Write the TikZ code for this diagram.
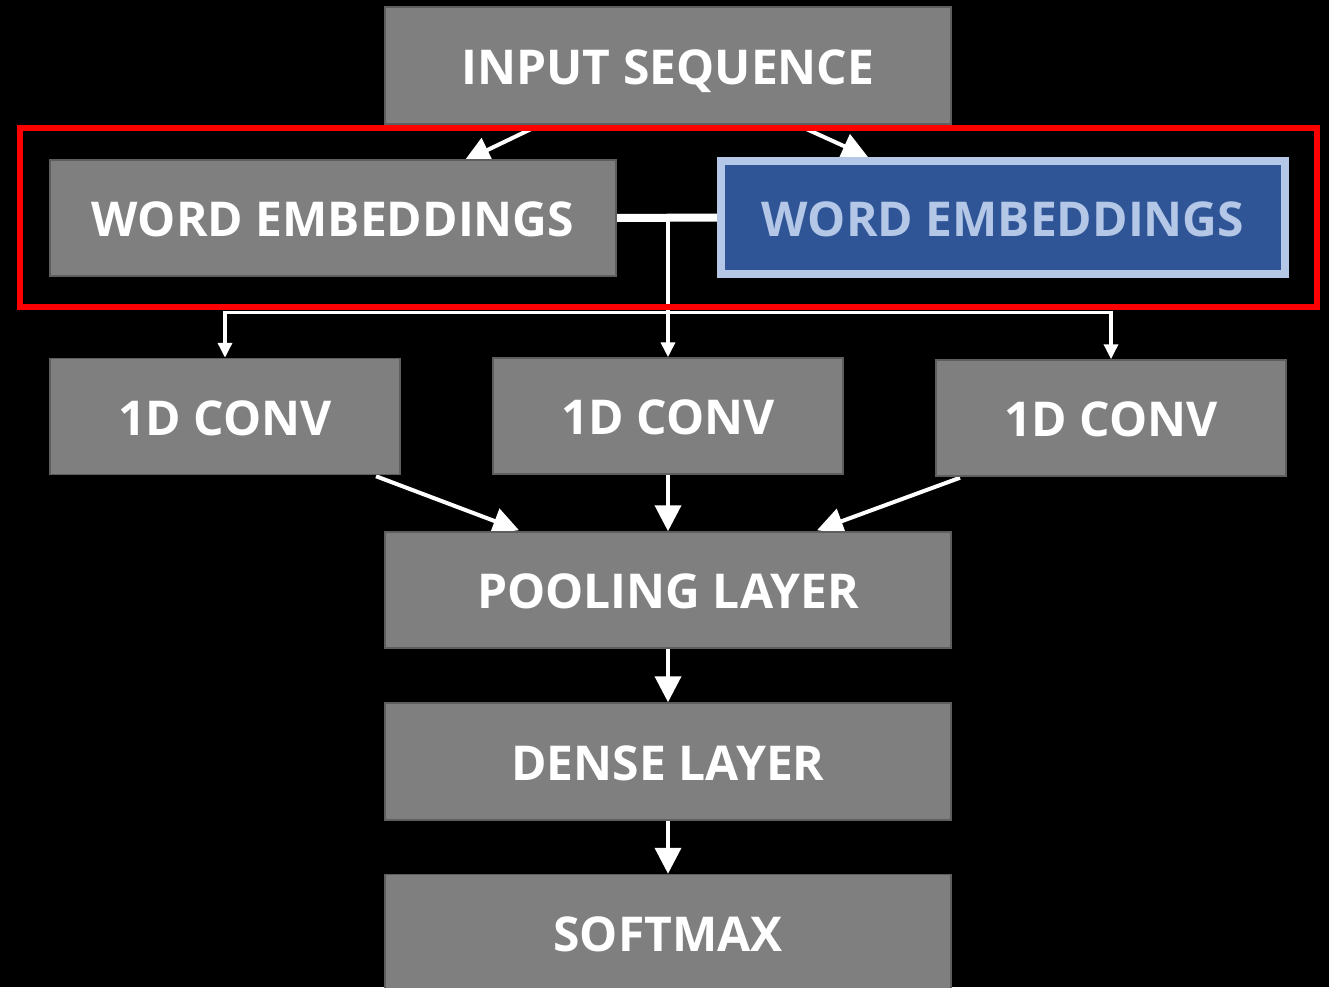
\documentclass[tikz,border=0pt]{standalone}
\usepackage{fontspec}
\setmainfont{Open Sans}
\usetikzlibrary{arrows.meta,calc}
\definecolor{boxgray}{HTML}{7F7F7F}
\definecolor{boxedge}{HTML}{5E5E5E}
\definecolor{navy}{HTML}{2F5597}
\definecolor{paleblue}{HTML}{B4C7E7}
\definecolor{groupred}{HTML}{FF0000}
\pgfdeclarelayer{bg}
\pgfdeclarelayer{wires}
\pgfsetlayers{bg,wires,main}

\begin{document}
\begin{tikzpicture}[x=1pt,y=-1pt,
  layerbox/.style={draw=boxedge, line width=1.5pt, fill=boxgray, text=white,
    font=\fontsize{48}{58}\selectfont\bfseries, inner sep=0pt,
    text height=37.5pt, text depth=0pt},
  wide/.style={layerbox, minimum width=566pt, minimum height=117pt},
  narrow/.style={layerbox, minimum width=350pt, minimum height=116pt},
  picked/.style={layerbox, draw=paleblue, line width=8pt, fill=navy, text=paleblue,
    minimum width=564pt, minimum height=113pt},
  flow/.style={draw=white, line width=4pt, -{Triangle[length=26pt,width=26pt]}},
  feed/.style={draw=white, line width=3.5pt},
  smalltip/.style={{Triangle[length=15pt,width=14pt]}-{Triangle[length=15pt,width=14pt]}},
  link/.style={draw=white, line width=8pt}
]
\useasboundingbox (0,0) rectangle (1329,987);
\clip (0,0) rectangle (1329,987);
\begin{pgfonlayer}{bg}
  \fill[black] (0,0) rectangle (1329,987);
\end{pgfonlayer}

% layer boxes
\node[wide]   (input)   at (668,65.5)  {INPUT SEQUENCE};
\node[wide, minimum height=116pt] (embL) at (333,218) {WORD EMBEDDINGS};
\node[picked] (embR)    at (1003,217.5) {WORD EMBEDDINGS};
\node[narrow] (conv1)   at (225,416.5) {1D CONV};
\node[narrow] (conv2)   at (668,416)   {1D CONV};
\node[narrow] (conv3)   at (1111,418)  {1D CONV};
\node[wide, minimum height=116pt] (pool) at (668,590) {POOLING LAYER};
\node[wide]   (dense)   at (668,761.5) {DENSE LAYER};
\node[wide]   (softmax) at (668,933)   {SOFTMAX};

\coordinate (split) at (668,218);
\coordinate (bus) at (668,312.5);

% connectors, kept behind the boxes
\begin{pgfonlayer}{wires}
  \draw[flow] ($(input.south)+(-128,0)$) -- ($(embL.north)+(131,2)$);
  \draw[flow] ($(input.south)+(129,0)$) -- ($(embR.north)+(-135,0)$);
  \draw[link] (embL.east) -- (embR.west);
  \draw[white, line width=4pt, -{Triangle[length=15pt,width=14pt]}] (split) -- (conv2.north);
  \draw[feed, smalltip] (conv1.north) -- (conv1.north |- bus) -- (conv3.north |- bus) -- (conv3.north);
  \draw[flow] ($(conv1.south)+(151,1)$) -- ($(pool.north)+(-149,-1)$);
  \draw[flow] (conv2.south) -- (pool.north);
  \draw[flow] ($(conv3.south)+(-151,1)$) -- ($(pool.north)+(149,-1)$);
  \draw[flow] (pool.south) -- (dense.north);
  \draw[flow] (dense.south) -- (softmax.north);
\end{pgfonlayer}

% outline round the two embedding blocks
\draw[groupred, line width=6pt] (20,128.5) rectangle (1317,307);
\end{tikzpicture}
\end{document}
